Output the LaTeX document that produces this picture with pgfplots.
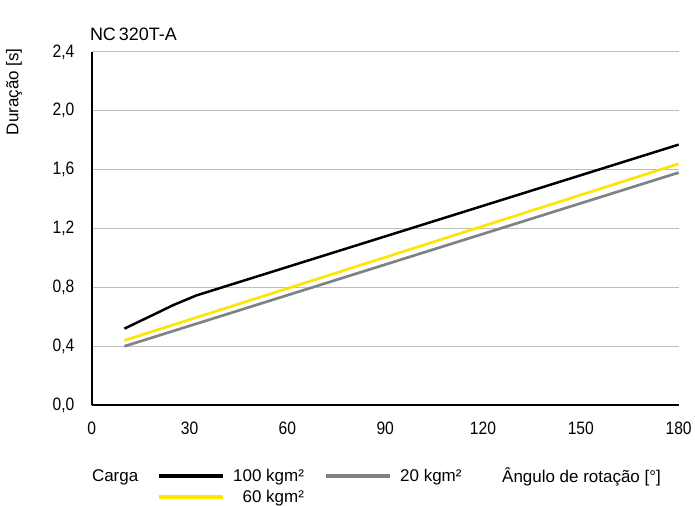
\documentclass[border=0pt]{standalone}
\usepackage{pgfplots}
\pgfplotsset{compat=1.18}
\usepackage{fontspec}
\setmainfont{Liberation Sans}
\newfontfamily\condfont[FakeStretch=0.87]{Liberation Sans}
\definecolor{cyellow}{RGB}{255,230,0}
\definecolor{cgray}{RGB}{127,131,133}
\definecolor{cgrid}{RGB}{190,190,190}
\begin{document}
\begin{tikzpicture}
\begin{axis}[
  at={(0,0)}, anchor=south west,
  scale only axis, width=588pt, height=354pt,
  xmin=0, xmax=180, ymin=0, ymax=2.4,
  xtick={0,30,...,180}, ytick={0,0.4,...,2.4},
  axis x line*=bottom, axis y line*=left,
  axis line style={line width=1.8pt, black, -},
  ymajorgrids, grid style={cgrid, line width=0.9pt},
  major tick length=0pt,
  /pgf/number format/assume math mode=true,
  ticklabel style={font=\condfont\fontsize{18}{20}\selectfont},
  xticklabel style={yshift=-13pt},
  yticklabel style={xshift=-14pt, /pgf/number format/.cd, use comma, fixed, fixed zerofill, precision=1},
  clip=false,
  legend columns=2,
  legend cell align=right,
  legend style={at={(0.1105,-0.175)}, anchor=north west, draw=none, fill=none,
    font=\fontsize{17}{19}\selectfont, column sep=6pt, row sep=3pt, inner sep=0pt,
    /tikz/every even column/.append style={column sep=18pt}},
  legend image code/.code={\draw[#1, line width=4.5pt] (0pt,0pt) -- (64pt,0pt);},
]
\addplot[black, line width=2.5pt] coordinates {(10,0.52) (18,0.605) (25,0.68) (32,0.745) (180,1.77)};
\addlegendentry{100 kgm²}
\addplot[cgray, line width=2.7pt] coordinates {(10,0.40) (180,1.58)};
\addlegendentry{20 kgm²}
\addplot[cyellow, line width=2.7pt] coordinates {(10,0.44) (180,1.64)};
\addlegendentry{60 kgm²}
\end{axis}
\node[anchor=west, font=\fontsize{18}{20}\selectfont, inner sep=0pt] at (-2pt,372pt) {NC\,320T-A};
\node[rotate=90, font=\fontsize{17}{19}\selectfont, inner sep=0pt] at (-78pt,314pt) {Duração [s]};
\node[anchor=west, font=\fontsize{17}{19}\selectfont, inner sep=0pt] at (0pt,-72pt) {Carga};
\node[anchor=west, font=\fontsize{17}{19}\selectfont, inner sep=0pt] at (411pt,-72pt) {Ângulo de rotação [°]};
\useasboundingbox (-92pt,-98pt) rectangle (603pt,406pt);
\end{tikzpicture}
\end{document}
